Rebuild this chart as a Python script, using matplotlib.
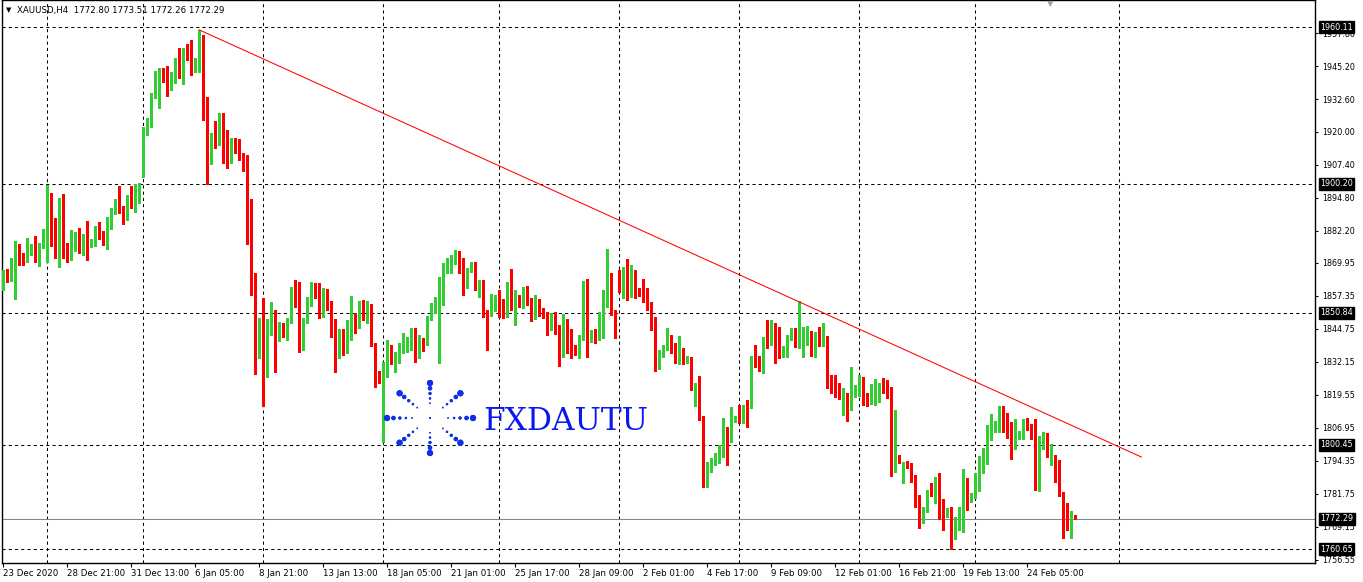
"""XAUUSD H4 candlestick chart, MT4 style."""
import matplotlib
matplotlib.use("Agg")
import matplotlib.pyplot as plt
import numpy as np

# OHLC per H4 bar (bar index 0 = 23 Dec 2020)
opens = [
    1860.4, 1865.4, 1865.0, 1865.0, 1876.1, 1873.0, 1872.2, 1876.1, 1876.8, 1872.2,
    1876.1, 1882.2, 1896.3, 1886.4, 1878.3, 1893.6, 1875.7, 1872.6, 1877.2, 1878.3,
    1876.8, 1878.0, 1877.2, 1877.6, 1882.9, 1881.8, 1878.3, 1886.8, 1889.8, 1894.0,
    1890.9, 1886.8, 1892.9, 1892.1, 1892.9, 1904.3, 1921.1, 1922.3, 1933.0, 1941.0,
    1943.3, 1942.2, 1939.1, 1940.2, 1946.7, 1945.2, 1950.9, 1949.8, 1943.3, 1944.4,
    1956.3, 1932.2, 1910.8, 1918.8, 1915.4, 1926.1, 1911.6, 1909.3, 1915.4, 1914.3,
    1912.0, 1907.0, 1890.6, 1864.6, 1837.5, 1846.6, 1834.8, 1845.9, 1851.6, 1841.7,
    1846.6, 1843.6, 1847.0, 1859.6, 1859.6, 1840.9, 1847.0, 1853.9, 1859.6, 1858.9,
    1853.5, 1858.5, 1854.3, 1846.2, 1839.0, 1840.9, 1838.2, 1843.9, 1849.3, 1845.5,
    1852.0, 1848.5, 1853.5, 1839.0, 1827.9, 1826.8, 1828.3, 1837.8, 1831.7, 1832.9,
    1837.8, 1838.6, 1840.1, 1844.3, 1835.5, 1840.5, 1839.8, 1849.3, 1851.6, 1853.5,
    1854.7, 1867.6, 1870.3, 1870.7, 1873.8, 1869.9, 1863.4, 1866.9, 1869.6, 1860.0,
    1861.2, 1851.6, 1849.7, 1852.7, 1854.7, 1854.7, 1850.1, 1862.3, 1855.0, 1856.6,
    1855.0, 1860.0, 1854.7, 1848.9, 1855.8, 1851.2, 1850.5, 1847.0, 1848.2, 1846.2,
    1836.3, 1845.1, 1843.9, 1837.5, 1836.3, 1840.9, 1854.3, 1839.8, 1842.4, 1841.3,
    1849.7, 1857.0, 1864.6, 1851.2, 1866.1, 1860.8, 1865.0, 1859.2, 1863.1, 1860.0,
    1860.0, 1858.5, 1855.0, 1848.9, 1833.3, 1834.4, 1837.5, 1841.7, 1837.8, 1834.0,
    1835.9, 1833.3, 1833.3, 1822.2, 1823.3, 1811.1, 1785.1, 1791.6, 1793.1, 1793.9,
    1796.6, 1806.9, 1801.9, 1809.6, 1814.9, 1809.9, 1815.3, 1814.5, 1831.7, 1831.0,
    1829.4, 1840.9, 1839.4, 1841.3, 1836.7, 1834.0, 1837.5, 1840.9, 1843.2, 1840.9,
    1841.3, 1841.7, 1842.4, 1837.5, 1842.4, 1839.8, 1842.0, 1825.6, 1825.6, 1819.1,
    1818.0, 1820.3, 1814.1, 1821.4, 1823.7, 1824.9, 1818.4, 1817.6, 1818.0, 1818.4,
    1823.3, 1823.3, 1822.6, 1790.8, 1796.2, 1793.1, 1793.5, 1792.4, 1788.9, 1780.9,
    1774.8, 1775.6, 1782.8, 1781.7, 1784.7, 1775.2, 1773.3, 1775.9, 1769.1, 1771.4,
    1771.4, 1786.6, 1779.4, 1781.7, 1782.8, 1790.1, 1795.8, 1803.8, 1807.7, 1809.2,
    1814.9, 1811.5, 1805.4, 1800.8, 1803.5, 1804.6, 1809.9, 1807.7, 1806.9, 1784.7,
    1799.3, 1804.6, 1795.8, 1796.2, 1794.3, 1780.9, 1777.9, 1770.6, 1772.80,
]
highs = [
    1867.3, 1867.6, 1871.8, 1878.3, 1877.2, 1873.8, 1879.5, 1877.2, 1880.3, 1877.6,
    1882.9, 1899.7, 1896.7, 1887.1, 1894.8, 1896.3, 1877.6, 1882.6, 1881.8, 1883.3,
    1881.0, 1886.0, 1879.1, 1884.1, 1885.6, 1882.2, 1887.5, 1890.9, 1894.4, 1899.4,
    1891.7, 1895.9, 1899.4, 1900.1, 1900.5, 1921.9, 1925.3, 1934.9, 1943.3, 1944.4,
    1944.4, 1945.2, 1942.9, 1948.3, 1952.1, 1952.1, 1953.6, 1955.2, 1948.3, 1959.0,
    1957.0, 1933.4, 1919.6, 1924.2, 1927.3, 1927.3, 1920.8, 1917.7, 1917.7, 1917.3,
    1912.0, 1911.2, 1894.4, 1866.1, 1848.9, 1856.6, 1848.5, 1855.0, 1852.0, 1847.4,
    1847.0, 1848.9, 1860.8, 1863.4, 1862.7, 1848.9, 1856.9, 1862.7, 1862.3, 1862.3,
    1860.4, 1860.0, 1855.4, 1848.5, 1844.7, 1844.7, 1848.2, 1857.3, 1850.8, 1855.4,
    1855.8, 1855.4, 1854.3, 1839.4, 1828.7, 1832.1, 1840.5, 1838.6, 1835.9, 1839.4,
    1843.2, 1841.7, 1845.1, 1845.1, 1842.4, 1841.3, 1849.7, 1854.7, 1857.0, 1864.6,
    1870.0, 1871.8, 1873.0, 1874.9, 1874.5, 1871.8, 1868.0, 1870.3, 1870.3, 1863.4,
    1863.4, 1852.0, 1858.1, 1857.7, 1859.6, 1856.2, 1862.7, 1867.6, 1859.6, 1857.7,
    1860.8, 1861.2, 1856.6, 1857.7, 1856.2, 1852.7, 1851.2, 1850.8, 1851.2, 1846.2,
    1850.5, 1848.5, 1844.7, 1838.6, 1842.4, 1863.1, 1863.8, 1844.3, 1844.7, 1851.2,
    1859.6, 1875.3, 1866.1, 1852.0, 1867.3, 1868.4, 1871.5, 1869.2, 1867.3, 1860.4,
    1863.8, 1860.4, 1855.0, 1849.3, 1836.7, 1838.6, 1845.1, 1842.4, 1839.4, 1842.0,
    1837.5, 1834.4, 1834.0, 1824.1, 1826.8, 1811.5, 1793.9, 1795.4, 1797.3, 1800.4,
    1810.7, 1807.3, 1814.9, 1811.5, 1815.7, 1815.7, 1817.6, 1834.4, 1838.6, 1834.4,
    1841.7, 1848.2, 1848.2, 1847.0, 1845.5, 1838.2, 1842.4, 1845.1, 1845.1, 1855.4,
    1845.5, 1845.9, 1844.0, 1843.6, 1845.5, 1847.0, 1842.0, 1827.1, 1827.1, 1824.1,
    1822.2, 1820.3, 1830.2, 1823.3, 1827.1, 1826.4, 1820.3, 1823.7, 1825.6, 1824.1,
    1826.0, 1825.2, 1822.6, 1813.8, 1796.6, 1793.9, 1794.3, 1793.5, 1788.9, 1781.3,
    1776.7, 1783.2, 1785.9, 1788.2, 1789.7, 1779.8, 1776.3, 1776.7, 1772.9, 1776.7,
    1791.2, 1787.8, 1782.0, 1789.7, 1796.2, 1799.3, 1808.0, 1812.2, 1809.6, 1815.3,
    1815.3, 1812.6, 1809.2, 1810.3, 1805.7, 1810.3, 1810.7, 1808.4, 1810.3, 1803.8,
    1805.4, 1805.0, 1800.8, 1796.6, 1794.7, 1782.4, 1778.2, 1775.2, 1773.51,
]
lows = [
    1859.6, 1862.7, 1863.1, 1856.2, 1869.2, 1869.2, 1870.3, 1873.0, 1870.3, 1868.8,
    1875.7, 1870.3, 1876.4, 1871.8, 1868.4, 1871.8, 1870.3, 1871.1, 1874.5, 1873.8,
    1873.0, 1871.1, 1876.1, 1876.4, 1879.1, 1876.8, 1875.3, 1882.9, 1888.7, 1889.0,
    1884.8, 1886.4, 1890.9, 1889.4, 1892.9, 1902.8, 1918.8, 1921.9, 1933.0, 1929.2,
    1939.1, 1933.8, 1936.0, 1938.7, 1940.6, 1938.3, 1947.5, 1941.8, 1942.9, 1942.9,
    1924.6, 1900.1, 1907.8, 1913.9, 1915.0, 1908.2, 1906.2, 1908.2, 1912.0, 1909.3,
    1905.1, 1877.2, 1857.7, 1827.5, 1833.6, 1815.3, 1826.4, 1842.4, 1828.3, 1840.1,
    1841.7, 1840.5, 1847.0, 1853.1, 1835.9, 1836.7, 1847.0, 1853.5, 1856.6, 1848.9,
    1849.3, 1852.0, 1841.7, 1828.3, 1833.6, 1834.8, 1835.5, 1840.5, 1843.2, 1845.1,
    1848.2, 1847.0, 1838.2, 1822.6, 1824.1, 1801.5, 1826.4, 1831.3, 1828.3, 1831.7,
    1835.5, 1835.9, 1836.7, 1832.1, 1833.6, 1836.3, 1838.6, 1848.2, 1850.8, 1831.7,
    1853.9, 1866.1, 1866.1, 1869.6, 1866.1, 1857.7, 1860.4, 1866.5, 1859.6, 1856.9,
    1849.3, 1836.7, 1849.7, 1851.6, 1849.3, 1848.9, 1849.3, 1852.0, 1846.2, 1853.1,
    1852.7, 1853.9, 1847.8, 1848.5, 1849.7, 1848.9, 1842.4, 1844.3, 1842.8, 1830.6,
    1834.0, 1835.5, 1833.6, 1834.8, 1833.6, 1840.5, 1834.0, 1839.8, 1839.4, 1840.5,
    1841.3, 1853.1, 1850.1, 1841.3, 1858.9, 1856.6, 1855.8, 1856.9, 1856.6, 1857.3,
    1855.0, 1852.0, 1844.3, 1828.7, 1829.4, 1834.0, 1836.7, 1835.5, 1831.7, 1831.3,
    1831.3, 1831.7, 1821.4, 1815.3, 1810.0, 1784.3, 1784.3, 1790.1, 1792.8, 1793.5,
    1795.8, 1792.8, 1801.5, 1809.2, 1808.8, 1808.8, 1807.3, 1814.5, 1830.2, 1828.7,
    1827.9, 1837.5, 1838.6, 1831.7, 1833.6, 1834.0, 1834.0, 1840.5, 1837.8, 1837.5,
    1834.0, 1838.6, 1834.4, 1834.0, 1838.2, 1838.2, 1822.2, 1820.3, 1818.7, 1818.0,
    1811.9, 1809.6, 1813.8, 1818.7, 1819.1, 1815.7, 1815.3, 1816.1, 1815.7, 1816.8,
    1820.3, 1818.4, 1788.6, 1790.1, 1793.5, 1785.9, 1791.6, 1786.3, 1776.7, 1768.7,
    1770.6, 1774.8, 1780.9, 1778.2, 1772.1, 1767.9, 1772.9, 1760.7, 1764.5, 1767.9,
    1767.1, 1775.6, 1778.6, 1780.1, 1782.8, 1789.7, 1793.1, 1802.3, 1805.4, 1805.4,
    1805.4, 1803.1, 1795.0, 1798.9, 1802.7, 1802.7, 1806.1, 1802.7, 1783.2, 1782.8,
    1798.9, 1795.8, 1792.8, 1786.3, 1780.9, 1764.9, 1767.9, 1764.9, 1772.26,
]
closes = [
    1865.4, 1865.0, 1865.4, 1876.1, 1872.6, 1871.8, 1876.8, 1876.8, 1871.8, 1876.4,
    1879.5, 1896.3, 1886.0, 1878.7, 1893.2, 1875.3, 1872.6, 1877.6, 1878.3, 1876.8,
    1878.0, 1877.2, 1878.0, 1882.9, 1881.4, 1878.7, 1887.1, 1890.2, 1894.0, 1890.6,
    1886.8, 1892.9, 1892.1, 1893.2, 1897.5, 1921.5, 1922.7, 1933.4, 1941.0, 1943.3,
    1942.5, 1939.1, 1940.2, 1946.7, 1945.2, 1950.9, 1949.0, 1943.3, 1944.8, 1956.3,
    1931.8, 1910.8, 1918.1, 1915.4, 1926.1, 1911.6, 1909.3, 1915.4, 1913.1, 1911.6,
    1907.0, 1890.2, 1864.2, 1837.5, 1846.6, 1834.8, 1846.2, 1851.6, 1841.3, 1846.6,
    1842.8, 1847.0, 1859.6, 1859.2, 1840.9, 1847.0, 1853.9, 1859.6, 1858.5, 1853.5,
    1858.5, 1853.9, 1844.3, 1839.0, 1840.9, 1838.2, 1844.3, 1849.3, 1845.5, 1852.0,
    1848.5, 1853.5, 1839.0, 1827.9, 1826.0, 1828.3, 1837.8, 1831.7, 1833.3, 1837.1,
    1839.0, 1840.5, 1844.3, 1835.5, 1840.5, 1839.8, 1849.3, 1852.4, 1853.5, 1855.0,
    1868.0, 1871.1, 1871.1, 1873.8, 1869.6, 1863.4, 1867.3, 1869.6, 1860.0, 1861.2,
    1851.2, 1849.7, 1855.8, 1855.8, 1853.9, 1850.1, 1862.3, 1855.0, 1856.6, 1855.0,
    1860.0, 1854.7, 1848.5, 1856.2, 1850.8, 1850.5, 1847.0, 1848.2, 1845.9, 1836.3,
    1845.1, 1843.2, 1836.7, 1836.7, 1841.3, 1854.3, 1839.0, 1842.4, 1840.9, 1849.7,
    1857.3, 1864.6, 1850.8, 1845.5, 1860.8, 1866.1, 1859.2, 1863.1, 1860.0, 1859.6,
    1858.1, 1854.7, 1848.5, 1833.3, 1834.8, 1837.8, 1841.7, 1837.8, 1834.0, 1835.9,
    1833.3, 1833.6, 1822.2, 1823.7, 1811.1, 1785.1, 1792.0, 1793.1, 1794.3, 1796.6,
    1806.9, 1801.9, 1809.9, 1809.9, 1809.9, 1815.3, 1814.5, 1831.7, 1830.6, 1829.8,
    1840.9, 1839.4, 1841.3, 1836.3, 1834.0, 1837.8, 1840.9, 1843.2, 1841.3, 1841.7,
    1842.4, 1842.8, 1837.5, 1842.0, 1839.8, 1842.0, 1824.5, 1824.5, 1819.1, 1818.0,
    1820.3, 1814.1, 1821.8, 1821.8, 1824.5, 1818.4, 1817.6, 1818.4, 1818.7, 1823.3,
    1822.6, 1822.6, 1790.8, 1796.2, 1793.5, 1793.5, 1792.0, 1788.6, 1780.5, 1774.4,
    1775.6, 1782.8, 1781.7, 1784.7, 1774.8, 1773.6, 1775.2, 1769.4, 1771.7, 1774.8,
    1786.6, 1779.4, 1781.3, 1783.2, 1790.5, 1795.8, 1804.2, 1808.0, 1809.2, 1814.9,
    1809.2, 1805.0, 1800.8, 1803.5, 1805.4, 1809.6, 1808.0, 1806.1, 1784.7, 1797.3,
    1804.6, 1795.8, 1796.2, 1793.9, 1780.9, 1777.9, 1769.1, 1772.5, 1772.29,
]

# time axis labels (every 16 bars)
time_labels = [
    "23 Dec 2020", "28 Dec 21:00", "31 Dec 13:00", "6 Jan 05:00", "8 Jan 21:00",
    "13 Jan 13:00", "18 Jan 05:00", "21 Jan 01:00", "25 Jan 17:00", "28 Jan 09:00",
    "2 Feb 01:00", "4 Feb 17:00", "9 Feb 09:00", "12 Feb 01:00", "16 Feb 21:00",
    "19 Feb 13:00", "24 Feb 05:00",
]
label_step = 16
# vertical grid (week separators), bar index
grid_bars = [11, 35, 65, 95, 124, 154, 184, 214, 243, 279]

price_ticks = [1957.80, 1945.20, 1932.60, 1920.00, 1907.40, 1894.80, 1882.20,
               1869.95, 1857.35, 1844.75, 1832.15, 1819.55, 1806.95, 1794.35,
               1781.75, 1769.15, 1756.55]
levels = [1960.11, 1900.20, 1850.84, 1800.45, 1760.65]
bid = 1772.29
trend_bars = [49, 284.5]
trend_prices = [1959.0, 1795.8]

symbol_info = "XAUUSD,H4  1772.80 1773.51 1772.26 1772.29"

W, H = 1363, 582
GREEN = "#32cd32"
RED = "#ff0000"

fig = plt.figure(figsize=(W / 100, H / 100), dpi=100)
fig.patch.set_facecolor("white")
ax = fig.add_axes([2 / W, 19 / H, 1313 / W, 563 / H])
ax.set_xlim(-0.325, 327.9)
ax.set_ylim(1755.31, 1970.43)

# grid / level lines
for b in grid_bars:
    ax.axvline(b, color="black", lw=0.75, ls=(0, (3, 3)), zorder=1)
for v in levels:
    ax.axhline(v, color="black", lw=0.75, ls=(0, (3, 3)), zorder=1)
ax.axhline(bid, color="#778899", lw=0.75, zorder=1)

# candles
o = np.array(opens)
h = np.array(highs)
l = np.array(lows)
c = np.array(closes)
idx = np.arange(len(o))
cols = np.where(c >= o, GREEN, RED)
ax.vlines(idx, l, h, colors=cols, linewidth=0.75, antialiased=False, zorder=3)
body = np.maximum(np.abs(c - o), 0.4)
ax.bar(idx, body, bottom=np.minimum(o, c), width=0.6, color=cols,
       linewidth=0, antialiased=False, zorder=4)

# trend line
ax.plot(trend_bars, trend_prices, color="red", lw=0.75, zorder=5)

# axes styling
for s in ax.spines.values():
    s.set_color("black")
    s.set_linewidth(1)
ax.yaxis.tick_right()
ax.set_yticks(price_ticks)
ax.set_yticklabels([f"{v:.2f}" for v in price_ticks])
ax.tick_params(axis="y", length=2.5, width=0.75, pad=2.5, labelsize=5.8)
ax.set_xticks(idx[::label_step][:len(time_labels)])
ax.set_xticklabels(time_labels)
ax.tick_params(axis="x", length=3, width=0.75, pad=1, labelsize=6.2)
for t in ax.get_xticklabels():
    t.set_ha("left")

# price boxes on the scale
for v in levels + [bid]:
    ax.annotate(f"{v:.2f}", xy=(1, v), xycoords=("axes fraction", "data"),
                xytext=(5, 0), textcoords="offset pixels", ha="left", va="center",
                fontsize=5.8, color="white", annotation_clip=False, zorder=10,
                bbox=dict(boxstyle="square,pad=0.18", fc="black", ec="black"))

# header
fig.text(6 / W, 1 - 10 / H, "\u25bc", fontsize=5, va="center", ha="left")
fig.text(17 / W, 1 - 10 / H, symbol_info, fontsize=6.2, va="center", ha="left")
fig.text(1050 / W, 1 - 4 / H, "\u25bc", fontsize=6, color="#a0a0a0",
         va="center", ha="center")

# watermark
cx, cy = 430, 418
fracs = [0.42, 0.56, 0.70, 0.85, 1.0]
diam = [1.6, 2.4, 3.2, 4.4, 6.2]
xs, ys, ss = [cx / W], [1 - cy / H], [(2 * 0.72) ** 2]
for k in range(8):
    a = k * np.pi / 4
    for fr, d in zip(fracs, diam):
        xs.append((cx + 43 * fr * np.cos(a)) / W)
        ys.append(1 - (cy - 35 * fr * np.sin(a)) / H)
        ss.append((d * 0.72) ** 2)
fig.add_artist(plt.scatter(xs, ys, s=ss, color="#1030e8", transform=fig.transFigure,
                           linewidths=0, zorder=6))
fig.text(483 / W, 1 - 429.5 / H, "FXDAUTU", fontsize=22.5, family="DejaVu Serif",
         color="#0a18f0", va="baseline", ha="left", zorder=6)

fig.savefig("out.png", dpi=100)
